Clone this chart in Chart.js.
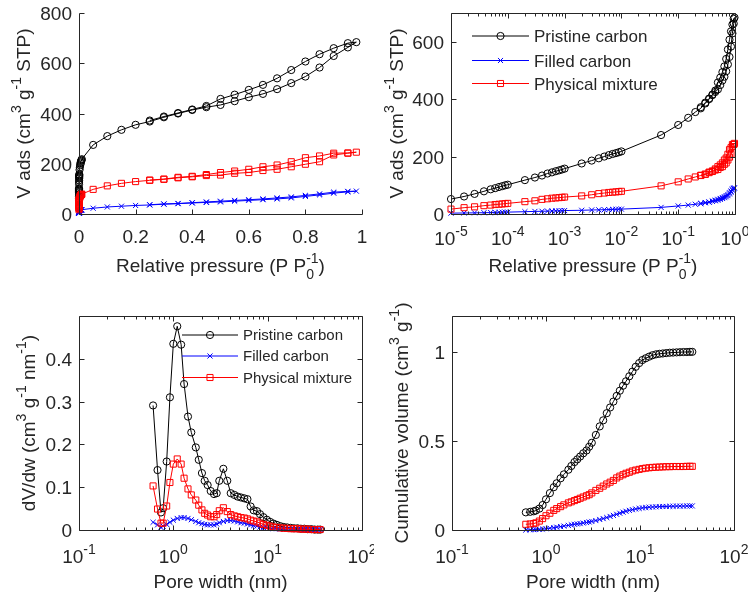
<!DOCTYPE html>
<html lang="en">
<head>
<meta charset="UTF-8" />
<title>Isotherms and pore size distribution</title>
<script src="https://cdn.jsdelivr.net/npm/chart.js"></script>
<style>
  body { margin: 0; background: #fff; }
  #wrap { position: relative; width: 748px; height: 595px; }
  #wrap canvas { position: absolute; }
</style>
</head>
<body>
<div id="wrap">
  <canvas id="isoLin" width="374" height="297" style="left:0;top:0"></canvas>
  <canvas id="isoLog" width="374" height="297" style="left:374px;top:0"></canvas>
  <canvas id="psd" width="374" height="298" style="left:0;top:297px"></canvas>
  <canvas id="cumul" width="374" height="298" style="left:374px;top:297px"></canvas>
</div>
<script>
// ---- isotherm data (adsorption up to 0.98, then desorption back down) ----
const pressure = [
  1e-5, 1.7e-5, 2.6e-5, 3.8e-5, 5e-5, 6e-5, 7e-5, 8e-5, 9e-5, 1e-4,
  2e-4, 3e-4, 4e-4, 5e-4, 6e-4, 7e-4, 8e-4, 9e-4, 1e-3,
  2e-3, 3e-3, 4e-3, 5e-3, 6e-3, 7e-3, 8e-3, 9e-3, 1e-2,
  0.05, 0.10, 0.15, 0.20, 0.25, 0.30, 0.35, 0.40, 0.45, 0.50,
  0.55, 0.60, 0.65, 0.70, 0.75, 0.80, 0.85, 0.90, 0.95, 0.98,
  0.95, 0.90, 0.85, 0.80, 0.75, 0.70, 0.65, 0.60, 0.55, 0.50,
  0.45, 0.40, 0.35, 0.30, 0.25
];
const vadsPristine = [
  52, 61, 70, 79, 86, 90, 94, 97, 100, 102,
  118, 127, 134, 141, 145, 149, 152, 155, 158,
  176, 186, 194, 200, 205, 209, 212, 215, 218,
  275, 310, 335, 355, 368, 385, 400, 414, 425, 434,
  449, 465, 478, 497, 521, 547, 583, 629, 663, 684,
  680, 660, 636, 607, 573, 540, 514, 494, 475, 458,
  430, 416, 402, 388, 372
];
const vadsFilled = [
  3, 3.5, 4, 4.5, 5, 5.5, 6, 6, 6.5, 6.5,
  8, 9, 9.5, 10, 10.5, 11, 11, 11.5, 12,
  13, 14, 14.5, 15, 15.5, 16, 16, 16.5, 17,
  23, 28, 31, 34, 36, 39, 41, 44, 46, 48,
  51, 54, 57, 60, 64, 70, 76, 83, 88, 91,
  90, 87, 80, 74, 68, 64, 60, 57, 54, 51,
  48, 45, 42, 40, 37
];
const vadsMixture = [
  17, 22, 25, 29, 31, 33, 34, 35, 36, 37,
  43, 46, 51, 53, 55, 56, 57, 58, 59,
  63, 67, 71, 73, 75, 76, 77, 78, 79,
  98, 112, 122, 129, 134, 138, 144, 148, 153, 155,
  162, 165, 173, 178, 188, 198, 208, 235, 242, 246,
  243, 242, 231, 224, 208, 195, 188, 178, 171, 165,
  157, 150, 146, 139, 135
];

// ---- pore size data ----
const poreWidth = [
  0.61, 0.68, 0.74, 0.78, 0.85, 0.92, 1.00, 1.10, 1.21, 1.30,
  1.43, 1.55, 1.73, 1.86, 2.01, 2.15, 2.31, 2.49, 2.70, 2.88,
  3.07, 3.39, 3.73, 4.06, 4.43, 4.81, 5.21, 5.65, 6.10, 6.60,
  7.10, 7.70, 8.30, 9.00, 9.80, 10.6, 11.5, 12.5, 13.6, 14.8,
  16.1, 17.5, 19.0, 20.7, 22.5, 24.5, 26.6, 29.0, 31.5, 34.0, 36.0
];
const psdPristine = [
  0.291, 0.140, 0.041, 0.051, 0.160, 0.310, 0.435, 0.476, 0.433, 0.341,
  0.265, 0.228, 0.193, 0.164, 0.133, 0.115, 0.105, 0.091, 0.084, 0.086,
  0.115, 0.143, 0.115, 0.086, 0.082, 0.078, 0.076, 0.074, 0.072, 0.055,
  0.046, 0.044, 0.037, 0.030, 0.024, 0.019, 0.015, 0.012, 0.009, 0.007,
  0.006, 0.005, 0.004, 0.004, 0.003, 0.003, 0.002, 0.002, 0.001, 0.001, 0.001
];
const psdFilled = [
  0.018, 0.012, 0.006, 0.009, 0.013, 0.018, 0.023, 0.027, 0.029, 0.029,
  0.027, 0.024, 0.020, 0.017, 0.015, 0.013, 0.012, 0.012, 0.012, 0.014,
  0.017, 0.020, 0.022, 0.022, 0.021, 0.019, 0.017, 0.016, 0.014, 0.012,
  0.010, 0.009, 0.007, 0.006, 0.005, 0.004, 0.003, 0.003, 0.002, 0.002,
  0.002, 0.002, 0.001, 0.001, 0.001, 0.001, 0.001, 0.001, 0.001, 0.001, 0.001
];
const psdMixture = [
  0.103, 0.049, 0.016, 0.016, 0.056, 0.111, 0.154, 0.166, 0.154, 0.121,
  0.096, 0.082, 0.070, 0.058, 0.047, 0.039, 0.035, 0.031, 0.031, 0.036,
  0.045, 0.052, 0.043, 0.036, 0.033, 0.031, 0.029, 0.028, 0.026, 0.023,
  0.021, 0.019, 0.016, 0.013, 0.011, 0.009, 0.007, 0.006, 0.005, 0.004,
  0.004, 0.003, 0.003, 0.003, 0.002, 0.002, 0.002, 0.001, 0.001, 0.001, 0.001
];
const cumPristine = [
  0.099, 0.102, 0.105, 0.109, 0.120, 0.140, 0.172, 0.207, 0.240, 0.262,
  0.290, 0.312, 0.338, 0.359, 0.381, 0.396, 0.412, 0.430, 0.446, 0.467,
  0.489, 0.533, 0.581, 0.615, 0.655, 0.687, 0.720, 0.752, 0.781, 0.809,
  0.834, 0.862, 0.888, 0.915, 0.936, 0.953, 0.963, 0.972, 0.980, 0.985,
  0.988, 0.990, 0.992, 0.994, 0.995, 0.996, 0.997, 0.998, 0.998, 0.999, 0.999
];
const cumFilled = [
  0.000, 0.001, 0.002, 0.003, 0.004, 0.005, 0.007, 0.010, 0.013, 0.016,
  0.019, 0.022, 0.026, 0.029, 0.032, 0.034, 0.036, 0.039, 0.042, 0.045,
  0.048, 0.053, 0.059, 0.064, 0.070, 0.076, 0.082, 0.088, 0.094, 0.100,
  0.105, 0.110, 0.114, 0.118, 0.121, 0.124, 0.126, 0.128, 0.129, 0.130,
  0.131, 0.132, 0.132, 0.133, 0.133, 0.134, 0.134, 0.134, 0.135, 0.135, 0.135
];
const cumMixture = [
  0.032, 0.034, 0.036, 0.040, 0.050, 0.064, 0.080, 0.094, 0.110, 0.120,
  0.131, 0.141, 0.152, 0.158, 0.165, 0.171, 0.178, 0.185, 0.192, 0.198,
  0.208, 0.222, 0.234, 0.246, 0.258, 0.268, 0.278, 0.292, 0.302, 0.310,
  0.318, 0.324, 0.331, 0.336, 0.340, 0.344, 0.347, 0.349, 0.351, 0.352,
  0.353, 0.354, 0.355, 0.355, 0.356, 0.356, 0.356, 0.356, 0.357, 0.357, 0.357
];

// ---- ticks ----
const linPressureTicks = [0, 0.2, 0.4, 0.6, 0.8, 1];
const linPressureLabels = ['0', '0.2', '0.4', '0.6', '0.8', '1'];
const vadsTicksLin = [0, 200, 400, 600, 800];
const vadsTicksLog = [0, 200, 400, 600];
const logPressureTicks = [1e-5, 1e-4, 1e-3, 1e-2, 1e-1, 1];
const logPressureExp = ['-5', '-4', '-3', '-2', '-1', '0'];
const poreTicks = [0.1, 1, 10, 100];
const poreExp = ['-1', '0', '1', '2'];
const psdTicks = [0, 0.1, 0.2, 0.3, 0.4];
const psdLabels = ['0', '0.1', '0.2', '0.3', '0.4'];
const cumTicks = [0, 0.5, 1];
const cumLabels = ['0', '0.5', '1'];

const seriesNames = ['Pristine carbon', 'Filled carbon', 'Physical mixture'];
const seriesColors = ['#000000', '#0000ff', '#ff0000'];
const seriesMarkers = ['circle', 'crossRot', 'rect'];
const markerRadius = [3.6, 3.6, 4.3];

const ink = '#262626';
const fam = '"Liberation Sans", Arial, Helvetica, sans-serif';
const fs = 19;

// text made of pieces; {sup, sub} pieces are drawn smaller and raised/lowered
function partsWidth(ctx, parts, size) {
  let w = 0;
  parts.forEach(p => {
    if (typeof p === 'string') {
      ctx.font = size + 'px ' + fam;
      w += ctx.measureText(p).width;
    } else {
      ctx.font = Math.round(size * 0.76) + 'px ' + fam;
      w += Math.max(p.sup ? ctx.measureText(p.sup).width : 0, p.sub ? ctx.measureText(p.sub).width : 0);
    }
  });
  return w;
}

function drawParts(ctx, parts, x, y, size, align) {
  const w = partsWidth(ctx, parts, size);
  let cx = align === 'center' ? x - w / 2 : align === 'right' ? x - w : x;
  ctx.textAlign = 'left';
  ctx.textBaseline = 'alphabetic';
  parts.forEach(p => {
    if (typeof p === 'string') {
      ctx.font = size + 'px ' + fam;
      ctx.fillText(p, cx, y);
      cx += ctx.measureText(p).width;
    } else {
      ctx.font = Math.round(size * 0.76) + 'px ' + fam;
      let adv = 0;
      if (p.sup) { ctx.fillText(p.sup, cx, y - size * 0.45); adv = ctx.measureText(p.sup).width; }
      if (p.sub) { ctx.fillText(p.sub, cx, y + size * 0.38); adv = Math.max(adv, ctx.measureText(p.sub).width); }
      cx += adv;
    }
  });
}

function drawMarker(ctx, style, x, y, r) {
  ctx.beginPath();
  if (style === 'circle') {
    ctx.arc(x, y, r, 0, Math.PI * 2);
  } else if (style === 'rect') {
    const s = r * Math.SQRT1_2;
    ctx.rect(x - s, y - s, 2 * s, 2 * s);
  } else {
    const s = r * Math.SQRT1_2;
    ctx.moveTo(x - s, y - s); ctx.lineTo(x + s, y + s);
    ctx.moveTo(x - s, y + s); ctx.lineTo(x + s, y - s);
  }
  ctx.stroke();
}

// MATLAB-like axes: inward ticks, optional box, rich tick labels, titles, legend
function matlabAxes(cfg) {
  return {
    id: 'matlabAxes',
    afterDraw(chart) {
      const ctx = chart.ctx, a = chart.chartArea;
      const xs = chart.scales.x, ys = chart.scales.y;
      const L = Math.round(a.left) + 0.5, R = Math.round(a.right) + 0.5;
      const T = Math.round(a.top) + 0.5, B = Math.round(a.bottom) + 0.5;
      ctx.save();
      ctx.strokeStyle = ink;
      ctx.fillStyle = ink;
      ctx.lineWidth = 1;
      ctx.beginPath();
      if (cfg.box) {
        ctx.rect(L, T, R - L, B - T);
      } else {
        ctx.moveTo(L, T); ctx.lineTo(L, B); ctx.lineTo(R, B);
      }
      const xTick = (v, len) => {
        const px = Math.round(xs.getPixelForValue(v)) + 0.5;
        ctx.moveTo(px, B); ctx.lineTo(px, B - len);
        if (cfg.box) { ctx.moveTo(px, T); ctx.lineTo(px, T + len); }
      };
      cfg.xTicks.forEach(v => xTick(v, 5));
      if (cfg.xLog) {
        for (let e = Math.round(Math.log10(xs.min)); e < Math.round(Math.log10(xs.max)); e++) {
          for (let m = 2; m <= 9; m++) xTick(m * Math.pow(10, e), 3);
        }
      }
      cfg.yTicks.forEach(v => {
        const py = Math.round(ys.getPixelForValue(v)) + 0.5;
        ctx.moveTo(L, py); ctx.lineTo(L + 5, py);
        if (cfg.box) { ctx.moveTo(R, py); ctx.lineTo(R - 5, py); }
      });
      ctx.stroke();

      // tick labels
      cfg.xTicks.forEach((v, i) => {
        const lab = cfg.xLog ? ['10', { sup: cfg.xLabels[i] }] : [cfg.xLabels[i]];
        drawParts(ctx, lab, xs.getPixelForValue(v), a.bottom + cfg.xLabelGap, fs, 'center');
      });
      cfg.yTicks.forEach((v, i) => {
        drawParts(ctx, [cfg.yLabels[i]], a.left - 7, ys.getPixelForValue(v) + 7, fs, 'right');
      });

      // axis titles
      drawParts(ctx, cfg.xTitle, (a.left + a.right) / 2, a.bottom + 58, fs, 'center');
      ctx.save();
      ctx.translate(cfg.yTitleX + 7, (a.top + a.bottom) / 2);
      ctx.rotate(-Math.PI / 2);
      drawParts(ctx, cfg.yTitle, 0, 0, fs, 'center');
      ctx.restore();

      // legend
      if (cfg.legend) {
        const lg = cfg.legend;
        seriesNames.forEach((name, i) => {
          const y = a.top + lg.rows[i];
          const x1 = a.left + lg.lineFrom, x2 = a.left + lg.lineTo;
          ctx.strokeStyle = seriesColors[i];
          ctx.beginPath();
          ctx.moveTo(x1, y); ctx.lineTo(x2, y);
          ctx.stroke();
          drawMarker(ctx, seriesMarkers[i], (x1 + x2) / 2, y, markerRadius[i]);
          ctx.fillStyle = ink;
          drawParts(ctx, [name], x2 + 5, y + lg.size * 0.36, lg.size, 'left');
        });
      }
      ctx.restore();
    }
  };
}

function series(i, xs, ys) {
  return {
    label: seriesNames[i],
    data: xs.map((x, k) => ({ x: x, y: ys[k] })),
    showLine: true,
    borderColor: seriesColors[i],
    borderWidth: 1,
    pointStyle: seriesMarkers[i],
    pointRadius: markerRadius[i],
    pointBorderColor: seriesColors[i],
    pointBackgroundColor: 'rgba(0,0,0,0)',
    pointBorderWidth: 1,
    order: 3 - i,
    clip: false
  };
}

function makeChart(id, pad, xScale, yScale, datasets, axesCfg) {
  const hidden = { ticks: { display: false }, grid: { display: false }, border: { display: false } };
  return new Chart(document.getElementById(id), {
    type: 'scatter',
    data: { datasets: datasets },
    options: {
      responsive: false,
      animation: false,
      events: [],
      layout: { padding: pad },
      plugins: { legend: { display: false }, tooltip: { enabled: false } },
      scales: {
        x: Object.assign({}, hidden, xScale, { afterFit: s => { s.height = 0; } }),
        y: Object.assign({}, hidden, yScale, { afterFit: s => { s.width = 0; } })
      }
    },
    plugins: [matlabAxes(axesCfg)]
  });
}

const vadsTitle = ['V ads (cm', { sup: '3' }, ' g', { sup: '-1' }, ' STP)'];
const pressureTitle = ['Relative pressure (P P', { sub: '0', sup: '-1' }, ')'];
const poreTitle = ['Pore width (nm)'];

makeChart('isoLin', { left: 79, right: 12, top: 13, bottom: 83 },
  { type: 'linear', min: 0, max: 1 },
  { type: 'linear', min: 0, max: 800 },
  [series(0, pressure, vadsPristine), series(1, pressure, vadsFilled), series(2, pressure, vadsMixture)],
  { box: false, xTicks: linPressureTicks, xLabels: linPressureLabels, xLabelGap: 29,
    yTicks: vadsTicksLin, yLabels: vadsTicksLin.map(String),
    xTitle: pressureTitle, yTitle: vadsTitle, yTitleX: 23 });

makeChart('isoLog', { left: 77, right: 13, top: 13, bottom: 83 },
  { type: 'logarithmic', min: 1e-5, max: 1 },
  { type: 'linear', min: 0, max: 700 },
  [series(0, pressure, vadsPristine), series(1, pressure, vadsFilled), series(2, pressure, vadsMixture)],
  { box: true, xLog: true, xTicks: logPressureTicks, xLabels: logPressureExp, xLabelGap: 31,
    yTicks: vadsTicksLog, yLabels: vadsTicksLog.map(String),
    xTitle: pressureTitle, yTitle: vadsTitle, yTitleX: 22,
    legend: { rows: [23, 47.5, 70.5], lineFrom: 21, lineTo: 78, size: 17 } });

makeChart('psd', { left: 79, right: 12, top: 19, bottom: 65 },
  { type: 'logarithmic', min: 0.1, max: 100 },
  { type: 'linear', min: 0, max: 0.5 },
  [series(0, poreWidth, psdPristine), series(1, poreWidth, psdFilled), series(2, poreWidth, psdMixture)],
  { box: true, xLog: true, xTicks: poreTicks, xLabels: poreExp, xLabelGap: 33,
    yTicks: psdTicks, yLabels: psdLabels,
    xTitle: poreTitle, yTitle: ['dV/dw (cm', { sup: '3' }, ' g', { sup: '-1' }, ' nm', { sup: '-1' }, ')'], yTitleX: 28,
    legend: { rows: [19, 40, 61.5], lineFrom: 103, lineTo: 159, size: 15 } });

makeChart('cumul', { left: 78, right: 14, top: 19, bottom: 65 },
  { type: 'logarithmic', min: 0.1, max: 100 },
  { type: 'linear', min: 0, max: 1.2 },
  [series(0, poreWidth, cumPristine), series(1, poreWidth, cumFilled), series(2, poreWidth, cumMixture)],
  { box: true, xLog: true, xTicks: poreTicks, xLabels: poreExp, xLabelGap: 33,
    yTicks: cumTicks, yLabels: cumLabels,
    xTitle: poreTitle, yTitle: ['Cumulative volume (cm', { sup: '3' }, ' g', { sup: '-1' }, ')'], yTitleX: 27 });
</script>
</body>
</html>
